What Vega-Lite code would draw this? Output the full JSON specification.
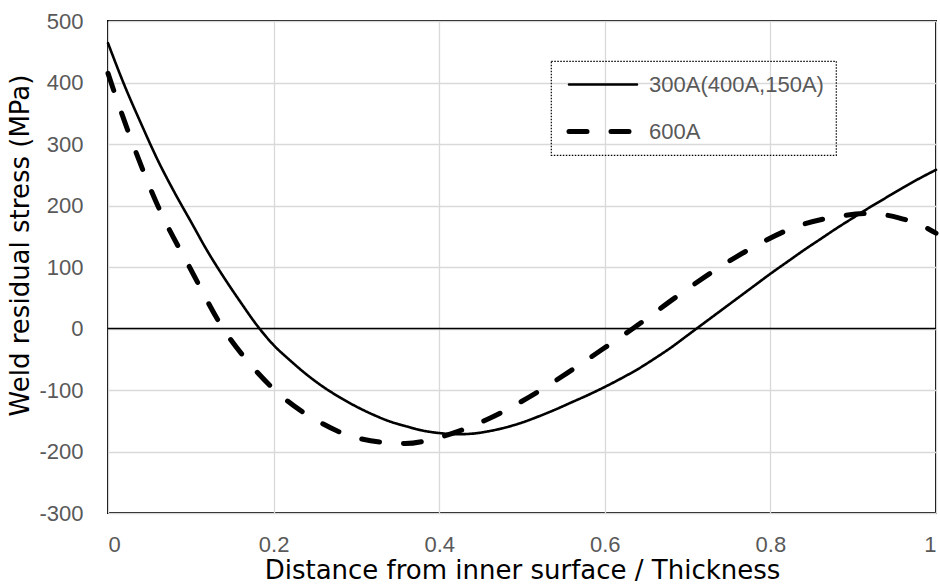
{
  "$schema": "https://vega.github.io/schema/vega-lite/v6.json",
  "width": 828,
  "height": 492,
  "autosize": {"type": "none"},
  "padding": {"left": 108, "top": 21, "right": 4, "bottom": 74},
  "background": "white",
  "config": {
    "font": "Liberation Sans",
    "view": {"stroke": "black", "strokeWidth": 2},
    "axis": {
      "grid": true,
      "gridColor": "#d9d9d9",
      "gridWidth": 1.3,
      "domain": false,
      "ticks": false,
      "tickSize": 0,
      "labelColor": "#595959",
      "labelFontSize": 22,
      "labelFont": "Liberation Sans",
      "titleColor": "black",
      "titleFont": "DejaVu Sans",
      "titleFontWeight": "normal",
      "titleFontSize": 26
    }
  },
  "datasets": {
    "stress": [
      {"x": 0.0, "y": 464, "case": "300A(400A,150A)"},
      {"x": 0.02, "y": 395, "case": "300A(400A,150A)"},
      {"x": 0.04, "y": 333, "case": "300A(400A,150A)"},
      {"x": 0.06, "y": 274, "case": "300A(400A,150A)"},
      {"x": 0.08, "y": 222, "case": "300A(400A,150A)"},
      {"x": 0.10, "y": 174, "case": "300A(400A,150A)"},
      {"x": 0.12, "y": 126, "case": "300A(400A,150A)"},
      {"x": 0.14, "y": 83, "case": "300A(400A,150A)"},
      {"x": 0.16, "y": 43, "case": "300A(400A,150A)"},
      {"x": 0.18, "y": 5, "case": "300A(400A,150A)"},
      {"x": 0.20, "y": -27, "case": "300A(400A,150A)"},
      {"x": 0.22, "y": -52, "case": "300A(400A,150A)"},
      {"x": 0.24, "y": -75, "case": "300A(400A,150A)"},
      {"x": 0.26, "y": -95, "case": "300A(400A,150A)"},
      {"x": 0.28, "y": -112, "case": "300A(400A,150A)"},
      {"x": 0.30, "y": -127, "case": "300A(400A,150A)"},
      {"x": 0.32, "y": -140, "case": "300A(400A,150A)"},
      {"x": 0.34, "y": -151, "case": "300A(400A,150A)"},
      {"x": 0.36, "y": -159, "case": "300A(400A,150A)"},
      {"x": 0.38, "y": -166, "case": "300A(400A,150A)"},
      {"x": 0.40, "y": -170, "case": "300A(400A,150A)"},
      {"x": 0.42, "y": -172, "case": "300A(400A,150A)"},
      {"x": 0.44, "y": -171, "case": "300A(400A,150A)"},
      {"x": 0.46, "y": -167, "case": "300A(400A,150A)"},
      {"x": 0.48, "y": -161, "case": "300A(400A,150A)"},
      {"x": 0.50, "y": -153, "case": "300A(400A,150A)"},
      {"x": 0.52, "y": -143, "case": "300A(400A,150A)"},
      {"x": 0.54, "y": -132, "case": "300A(400A,150A)"},
      {"x": 0.56, "y": -120, "case": "300A(400A,150A)"},
      {"x": 0.58, "y": -108, "case": "300A(400A,150A)"},
      {"x": 0.60, "y": -95, "case": "300A(400A,150A)"},
      {"x": 0.62, "y": -81, "case": "300A(400A,150A)"},
      {"x": 0.64, "y": -66, "case": "300A(400A,150A)"},
      {"x": 0.66, "y": -49, "case": "300A(400A,150A)"},
      {"x": 0.68, "y": -31, "case": "300A(400A,150A)"},
      {"x": 0.70, "y": -11, "case": "300A(400A,150A)"},
      {"x": 0.72, "y": 9, "case": "300A(400A,150A)"},
      {"x": 0.74, "y": 29, "case": "300A(400A,150A)"},
      {"x": 0.76, "y": 49, "case": "300A(400A,150A)"},
      {"x": 0.78, "y": 69, "case": "300A(400A,150A)"},
      {"x": 0.80, "y": 89, "case": "300A(400A,150A)"},
      {"x": 0.82, "y": 108, "case": "300A(400A,150A)"},
      {"x": 0.84, "y": 127, "case": "300A(400A,150A)"},
      {"x": 0.86, "y": 145, "case": "300A(400A,150A)"},
      {"x": 0.88, "y": 163, "case": "300A(400A,150A)"},
      {"x": 0.90, "y": 180, "case": "300A(400A,150A)"},
      {"x": 0.92, "y": 197, "case": "300A(400A,150A)"},
      {"x": 0.94, "y": 213, "case": "300A(400A,150A)"},
      {"x": 0.96, "y": 229, "case": "300A(400A,150A)"},
      {"x": 0.98, "y": 244, "case": "300A(400A,150A)"},
      {"x": 1.00, "y": 258, "case": "300A(400A,150A)"},
      {"x": 0.0, "y": 415, "case": "600A"},
      {"x": 0.01, "y": 375, "case": "600A"},
      {"x": 0.03, "y": 300, "case": "600A"},
      {"x": 0.06, "y": 200, "case": "600A"},
      {"x": 0.10, "y": 96, "case": "600A"},
      {"x": 0.139, "y": 0, "case": "600A"},
      {"x": 0.171, "y": -57, "case": "600A"},
      {"x": 0.208, "y": -108, "case": "600A"},
      {"x": 0.254, "y": -151, "case": "600A"},
      {"x": 0.304, "y": -179, "case": "600A"},
      {"x": 0.359, "y": -187, "case": "600A"},
      {"x": 0.40, "y": -177, "case": "600A"},
      {"x": 0.461, "y": -146, "case": "600A"},
      {"x": 0.508, "y": -112, "case": "600A"},
      {"x": 0.554, "y": -73, "case": "600A"},
      {"x": 0.598, "y": -33, "case": "600A"},
      {"x": 0.634, "y": 0, "case": "600A"},
      {"x": 0.687, "y": 52, "case": "600A"},
      {"x": 0.731, "y": 93, "case": "600A"},
      {"x": 0.779, "y": 132, "case": "600A"},
      {"x": 0.828, "y": 164, "case": "600A"},
      {"x": 0.88, "y": 182, "case": "600A"},
      {"x": 0.92, "y": 187, "case": "600A"},
      {"x": 0.955, "y": 180, "case": "600A"},
      {"x": 0.985, "y": 166, "case": "600A"},
      {"x": 1.0, "y": 155, "case": "600A"}
    ],
    "zero": [{"y": 0}]
  },
  "layer": [
    {
      "data": {"name": "zero"},
      "mark": {"type": "rule", "color": "black", "strokeWidth": 1.4},
      "encoding": {
        "y": {"field": "y", "type": "quantitative", "scale": {"domain": [-300, 500]}}
      }
    },
    {
      "data": {"name": "stress"},
      "mark": {"type": "line", "color": "black", "interpolate": "monotone", "strokeCap": "round"},
      "encoding": {
        "x": {
          "field": "x",
          "type": "quantitative",
          "scale": {"domain": [0, 1], "nice": false},
          "axis": {
            "values": [0, 0.2, 0.4, 0.6, 0.8, 1],
            "labelExpr": "toString(datum.value)",
            "labelPadding": 21,
            "title": "Distance from inner surface / Thickness",
            "titlePadding": 2
          }
        },
        "y": {
          "field": "y",
          "type": "quantitative",
          "scale": {"domain": [-300, 500], "nice": false},
          "axis": {
            "values": [-300, -200, -100, 0, 100, 200, 300, 400, 500],
            "labelExpr": "toString(datum.value)",
            "labelPadding": 25,
            "title": "Weld residual stress (MPa)",
            "titlePadding": 5,
            "titleY": 224
          }
        },
        "strokeDash": {
          "field": "case",
          "type": "nominal",
          "scale": {"domain": ["300A(400A,150A)", "600A"], "range": [[1, 0], [18, 24]]},
          "legend": {
            "title": null,
            "orient": "none",
            "legendX": 443,
            "legendY": 40,
            "symbolType": "M-0.65,0L6.15,0",
            "symbolSize": 400,
            "symbolStrokeColor": "black",
            "symbolStrokeWidth": 1.5,
            "labelFontSize": 22,
            "labelColor": "#595959",
            "labelFont": "Liberation Sans",
            "labelLimit": 400,
            "labelOffset": 61,
            "padding": 12,
            "rowPadding": 23,
            "strokeColor": "black",
            "encode": {
              "legend": {"update": {"strokeDash": {"value": [1.5, 1.5]}, "strokeWidth": {"value": 1.2}}},
              "symbols": {"update": {
                "strokeWidth": {"signal": "datum.label == '600A' ? 5 : 2.8"},
                "strokeDash": {"signal": "datum.label == '600A' ? [18, 25, 25, 0] : [1, 0]"},
                "strokeCap": {"value": "round"}
              }}
            }
          }
        },
        "strokeWidth": {
          "field": "case",
          "type": "ordinal",
          "scale": {"domain": ["300A(400A,150A)", "600A"], "range": [2.6, 5]},
          "legend": null
        }
      }
    }
  ]
}
